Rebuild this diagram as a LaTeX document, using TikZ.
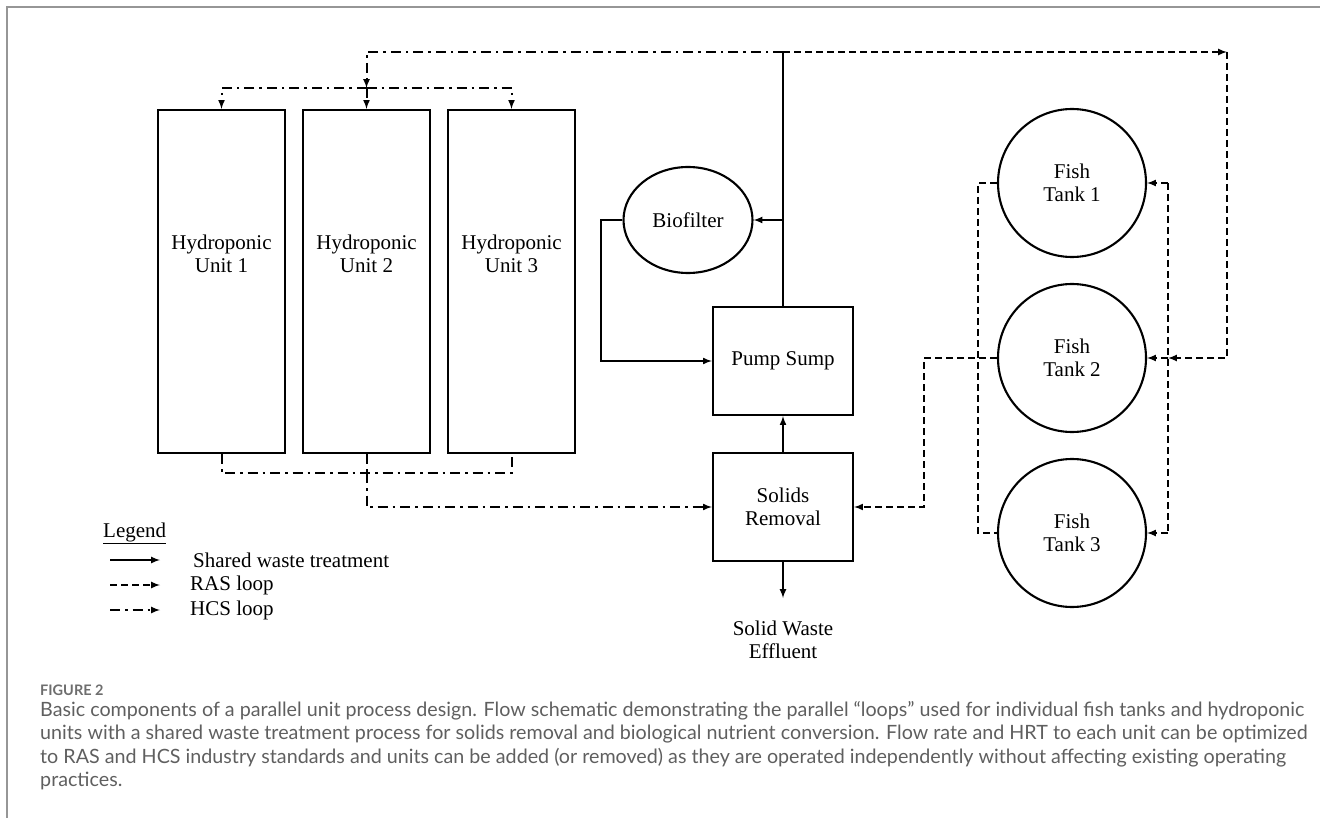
\documentclass[tikz,border=0pt]{standalone}
\usepackage{fontspec}
\setmainfont{Liberation Serif}
\newfontfamily\capfont{Lato}
\usepackage{tikz}
\usetikzlibrary{arrows, calc, shapes.geometric, positioning}
\definecolor{framegray}{RGB}{150,150,150}
\definecolor{capgray}{RGB}{95,95,95}
\definecolor{figgray}{RGB}{110,110,110}

\begin{document}
\begin{tikzpicture}[x=1pt, y=-1pt, >=latex,
	txt/.style={align=center, inner sep=2pt, font=\fontsize{21}{23}\selectfont},
	unit/.style={draw, line width=2.3pt, minimum width=127pt, minimum height=343pt, inner sep=0pt},
	proc/.style={draw, txt, line width=2.3pt, minimum width=140pt, minimum height=108pt, inner sep=0pt},
	tank/.style={draw, circle, txt, line width=2.1pt, minimum size=148pt, inner sep=0pt},
	bioshape/.style={draw, ellipse, txt, line width=2.1pt, minimum width=129pt, minimum height=106pt, inner sep=0pt},
	shared/.style={line width=2pt},
	ras/.style={shared, dash pattern=on 7pt off 4pt},
	hcs/.style={shared, dash pattern=on 10pt off 5pt on 2.5pt off 5pt}]

	\useasboundingbox (0,0) rectangle (1320,818);
	\draw[framegray, line width=1.5pt] (7,818) -- (7,7) -- (1320,7);

	\node[unit] (hyd1) at (221.5,281.5) {};
	\node[unit] (hyd2) at (366.5,281.5) {};
	\node[unit] (hyd3) at (511.5,281.5) {};
	\node[txt] (hyd1txt) at (221.5,254) {Hydroponic\\Unit 1};
	\node[txt] (hyd2txt) at (366.5,254) {Hydroponic\\Unit 2};
	\node[txt] (hyd3txt) at (511.5,254) {Hydroponic\\Unit 3};

	\node[bioshape] (bio) at (688,220) {Biofilter};
	\node[proc] (pump) at (783,361) {Pump Sump};
	\node[proc] (solids) at (783,507) {Solids\\Removal};
	\node[txt] (waste) at (783,640) {Solid Waste\\Effluent};

	\node[tank] (ft1) at (1072,183) {Fish\\Tank 1};
	\node[tank] (ft2) at (1072,358) {Fish\\Tank 2};
	\node[tank] (ft3) at (1072,533) {Fish\\Tank 3};

	\coordinate (split) at (783,52);
	\coordinate (hcsin) at (366.5,88);
	\coordinate (hcsout) at (366.5,473);
	\coordinate (rascorner) at (1227,52);
	\coordinate (rasin) at (1168,358);
	\coordinate (wasteend) at (783,598);

	\draw[shared] (pump.north) -- (split);
	\draw[shared,->] (pump.north |- bio.east) -- (bio.east);
	\draw[shared,->] (bio.west) -- ++(-21,0) |- (pump.west);
	\draw[shared,->] (solids.north) -- (pump.south);
	\draw[shared,->] (solids.south) -- (wasteend);

	\draw[hcs,->] (split) -| (hcsin);
	\draw[hcs,->] (hcsin) -- (hyd2.north);
	\draw[hcs,->] (hcsin) -| (hyd1.north);
	\draw[hcs,->] (hcsin) -| (hyd3.north);
	\draw[hcs] (hyd1.south) |- (hyd3.south |- hcsout) -- (hyd3.south);
	\draw[hcs] (hyd2.south) -- (hcsout);
	\draw[hcs,->] (hcsout) |- (solids.west);

	\draw[ras,->] (split) -- (rascorner);
	\draw[ras,->] (rascorner) |- (rasin);
	\draw[ras,->] (rasin) -- (ft2.east);
	\draw[ras] (rasin |- ft1.east) -- (rasin |- ft3.east);
	\draw[ras,->] (rasin |- ft1.east) -- (ft1.east);
	\draw[ras,->] (rasin |- ft3.east) -- (ft3.east);
	\draw[ras] (ft1.west) -- ++(-19,0) |- (ft3.west);
	\draw[ras,->] (ft2.west) -- ++(-73,0) |- (solids.east);

	\node[txt, anchor=west] (legend) at (101,533) {\underline{Legend}};
	\coordinate (lg1) at (110,560);
	\coordinate (lg2) at (110,585);
	\coordinate (lg3) at (110,610);
	\draw[shared,->] (lg1) -- ++(50,0) coordinate (lg1e);
	\draw[ras,->] (lg2) -- ++(50,0) coordinate (lg2e);
	\draw[hcs,->] (lg3) -- ++(50,0) coordinate (lg3e);
	\node[txt, right=31pt of lg1e] (lgshared) {Shared waste treatment};
	\node[txt, right=28pt of lg2e] (lgras) {RAS loop};
	\node[txt, right=28pt of lg3e] (lghcs) {HCS loop};

	\node[anchor=west, inner sep=0pt, text=figgray, font=\capfont\bfseries\fontsize{14.5}{16}\selectfont] (fig) at (40,690) {FIGURE 2};
	\node[anchor=north west, align=left, inner sep=0pt, text=capgray, font=\capfont\fontsize{19.7}{23.5}\selectfont] (caption) at (40,701) {Basic components of a parallel unit process design. Flow schematic demonstrating the parallel “loops” used for individual fish tanks and hydroponic\\
	units with a shared waste treatment process for solids removal and biological nutrient conversion. Flow rate and HRT to each unit can be optimized\\
	to RAS and HCS industry standards and units can be added (or removed) as they are operated independently without affecting existing operating\\
	practices.};
\end{tikzpicture}
\end{document}
